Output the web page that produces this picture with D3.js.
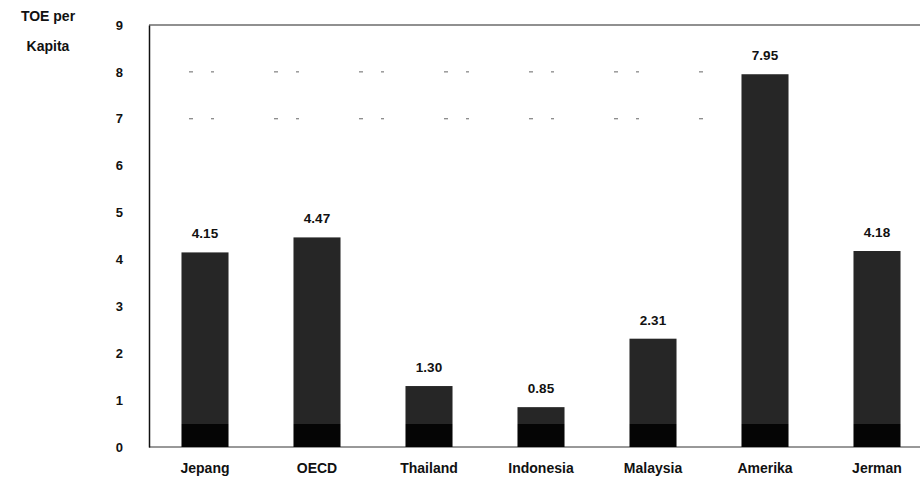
<!DOCTYPE html>
<html lang="id">
  <head>
    <meta charset="utf-8">
    <script src="https://d3js.org/d3.v7.min.js"></script>
    <style>
      body {margin: 0; background: #fff;}
      text {font-family: "Liberation Sans", Arial, sans-serif; font-weight: bold; fill: #111;}
    </style>
  </head>
  <body>
    <script type="text/javascript">
      // data
      const negara = ["Jepang", "OECD", "Thailand", "Indonesia", "Malaysia", "Amerika", "Jerman"];
      const toePerKapita = [4.15, 4.47, 1.30, 0.85, 2.31, 7.95, 4.18];
      const yTicks = [0, 1, 2, 3, 4, 5, 6, 7, 8, 9];
      const gridTicks = [7, 8];

      // sizes
      const w = 920;
      const h = 493;
      const plotLeft = 149;
      const plotTop = 25;
      const plotBottom = 447;

      var svg = d3.select("body")
            .append("svg")
            .attr("width", w)
            .attr("height", h);

      // scales
      var yScale = d3.scaleLinear()
                .domain([0, 9])
                .range([plotBottom, plotTop]);
      var xScale = d3.scaleBand()
                .domain(negara)
                .range([plotLeft, plotLeft + 7 * 112])
                .paddingInner(0.58)
                .paddingOuter(0.29);

      // darker bottom part of the bars, like the scan
      var grad = svg.append("defs").append("linearGradient")
            .attr("id", "barfill")
            .attr("gradientUnits", "userSpaceOnUse")
            .attr("x1", 0).attr("x2", 0)
            .attr("y1", yScale(0.5)).attr("y2", yScale(0));
      grad.append("stop").attr("offset", 0).attr("stop-color", "#262626");
      grad.append("stop").attr("offset", 0.01).attr("stop-color", "#050505");
      grad.append("stop").attr("offset", 1).attr("stop-color", "#050505");

      // faint broken grid lines
      svg.selectAll("line.grid")
          .data(gridTicks)
          .enter()
          .append("line")
          .attr("class", "grid")
          .attr("x1", plotLeft + 40)
          .attr("x2", w - 200)
          .attr("y1", function(d) { return yScale(d); })
          .attr("y2", function(d) { return yScale(d); })
          .attr("stroke", "#666")
          .attr("stroke-width", 1)
          .attr("stroke-dasharray", "4,18,3,60");

      // top border and baseline
      svg.append("line")
          .attr("x1", plotLeft).attr("x2", w)
          .attr("y1", yScale(9)).attr("y2", yScale(9))
          .attr("stroke", "#222").attr("stroke-width", 1.2);
      svg.append("line")
          .attr("x1", plotLeft).attr("x2", w)
          .attr("y1", yScale(0)).attr("y2", yScale(0))
          .attr("stroke", "#333").attr("stroke-width", 1);

      // bars
      svg.selectAll("rect.bar")
          .data(toePerKapita)
          .enter()
          .append("rect")
          .attr("class", "bar")
          .attr("x", function(d, i) { return xScale(negara[i]); })
          .attr("y", function(d) { return yScale(d); })
          .attr("width", xScale.bandwidth())
          .attr("height", function(d) { return yScale(0) - yScale(d); })
          .attr("fill", "url(#barfill)");

      // value labels
      svg.selectAll("text.val")
          .data(toePerKapita)
          .enter()
          .append("text")
          .attr("class", "val")
          .attr("x", function(d, i) { return xScale(negara[i]) + xScale.bandwidth() / 2; })
          .attr("y", function(d) { return yScale(d) - 14; })
          .attr("text-anchor", "middle")
          .attr("font-size", 13.5)
          .text(function(d) { return d.toFixed(2); });

      // y axis
      var yAxis = d3.axisLeft(yScale)
            .tickValues(yTicks)
            .tickSize(0)
            .tickPadding(26)
            .tickFormat(d3.format("d"));
      var gy = svg.append("g")
          .attr("transform", "translate(" + plotLeft + ",0)")
          .call(yAxis);
      gy.select(".domain").attr("stroke", "#111").attr("stroke-width", 1.5);
      gy.selectAll("text")
          .attr("font-size", 13)
          .style("font-family", "Liberation Sans, Arial, sans-serif")
          .style("font-weight", "bold")
          .attr("fill", "#111");

      // x labels
      var xAxis = d3.axisBottom(xScale)
            .tickSize(0)
            .tickPadding(16);
      var gx = svg.append("g")
          .attr("transform", "translate(0," + plotBottom + ")")
          .call(xAxis);
      gx.select(".domain").remove();
      gx.selectAll("text")
          .attr("font-size", 14)
          .style("font-family", "Liberation Sans, Arial, sans-serif")
          .style("font-weight", "bold")
          .attr("fill", "#111");

      // y title
      svg.append("text")
          .attr("x", 48).attr("y", 21)
          .attr("text-anchor", "middle")
          .attr("font-size", 14)
          .text("TOE per");
      svg.append("text")
          .attr("x", 48).attr("y", 51)
          .attr("text-anchor", "middle")
          .attr("font-size", 14)
          .text("Kapita");
    </script>
  </body>
</html>
